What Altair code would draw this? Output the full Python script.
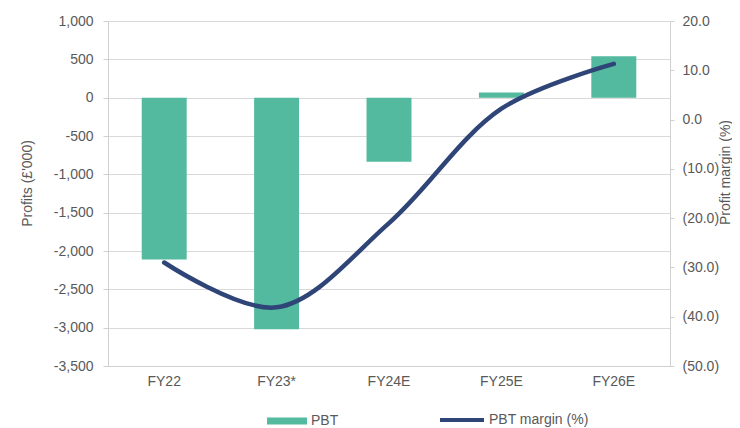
import altair as alt
import pandas as pd

years = ["FY22", "FY23*", "FY24E", "FY25E", "FY26E"]
pbt = [-2110, -3020, -836, 68, 540]
margin = [-29.0, -38.1, -21.0, 2.2, 11.3]
left_ticks = [-3500, -3000, -2500, -2000, -1500, -1000, -500, 0, 500, 1000]
right_ticks = [-50, -40, -30, -20, -10, 0, 10, 20]

df = pd.DataFrame({"year": years, "pbt": pbt, "margin": margin,
                   "s1": ["PBT"] * 5, "s2": ["PBT margin (%)"] * 5})

TEAL = "#53B99F"
NAVY = "#2F4578"
GREY = "#595959"
GRID = "#D9D9D9"
AXIS = "#D0D0D0"
FONT = "Liberation Sans"

x = alt.X("year:N", sort=years, title=None,
          scale=alt.Scale(paddingInner=0.6, paddingOuter=0.3),
          axis=alt.Axis(labelAngle=0, ticks=False, domainColor=AXIS, labelPadding=8,
                        labelFontSize=14, labelColor=GREY, labelFont=FONT, grid=False))

bars = alt.Chart(df).mark_bar().encode(
    x=x,
    y=alt.Y("pbt:Q", scale=alt.Scale(domain=[-3500, 1000], nice=False, zero=False),
            axis=alt.Axis(values=left_ticks, grid=True, gridColor=GRID, domainColor=AXIS,
                          tickColor=AXIS, tickSize=5, labelPadding=10,
                          labelExpr="replace(format(datum.value, ','), '\u2212', '-')",
                          labelFontSize=14, labelColor=GREY, labelFont=FONT,
                          title="Profits (£'000)", titleFontSize=14, titleFont=FONT,
                          titleFontWeight="normal", titleColor=GREY,
                          titleX=-81, titleY=162, titleAngle=270,
                          titleBaseline="middle", titleAlign="center")),
    color=alt.Color("s1:N", scale=alt.Scale(domain=["PBT"], range=[TEAL]),
                    legend=alt.Legend(title=None, orient="none", legendX=159, legendY=380,
                                      symbolType="M-1,-0.175L1,-0.175L1,0.175L-1,0.175Z",
                                      symbolSize=1600, symbolStrokeWidth=0, labelOffset=4,
                                      labelFontSize=14, labelColor=GREY, labelFont=FONT)),
)

line = alt.Chart(df).mark_line(strokeWidth=4.5, interpolate="catmull-rom", strokeCap="round").encode(
    x=x,
    y=alt.Y("margin:Q", scale=alt.Scale(domain=[-50, 20], nice=False, zero=False),
            axis=alt.Axis(orient="right", values=right_ticks, grid=False, domainColor=AXIS,
                          tickColor=AXIS, tickSize=4, labelPadding=8,
                          labelExpr="datum.value < 0 ? '(' + format(-datum.value, '.1f') + ')' : format(datum.value, '.1f')",
                          labelFontSize=14, labelColor=GREY, labelFont=FONT,
                          title="Profit margin (%)", titleFontSize=14, titleFont=FONT,
                          titleFontWeight="normal", titleColor=GREY,
                          titleX=55, titleY=151, titleAngle=270,
                          titleBaseline="middle", titleAlign="center")),
    stroke=alt.Stroke("s2:N", scale=alt.Scale(domain=["PBT margin (%)"], range=[NAVY]),
                      legend=alt.Legend(title=None, orient="none", legendX=330, legendY=375,
                                        symbolType="stroke", symbolSize=1936, symbolStrokeWidth=4,
                                        labelOffset=3, labelFontSize=14, labelColor=GREY,
                                        labelFont=FONT)),
)

chart = alt.layer(bars, line).resolve_scale(y="independent", color="independent").properties(
    width=562, height=345,
    autosize=alt.AutoSizeParams(type="none"),
    padding={"left": 100, "top": 13, "right": 62, "bottom": 62},
).configure_view(stroke=None)

chart.save("out.html", embed_options={"renderer": "svg", "actions": False})
